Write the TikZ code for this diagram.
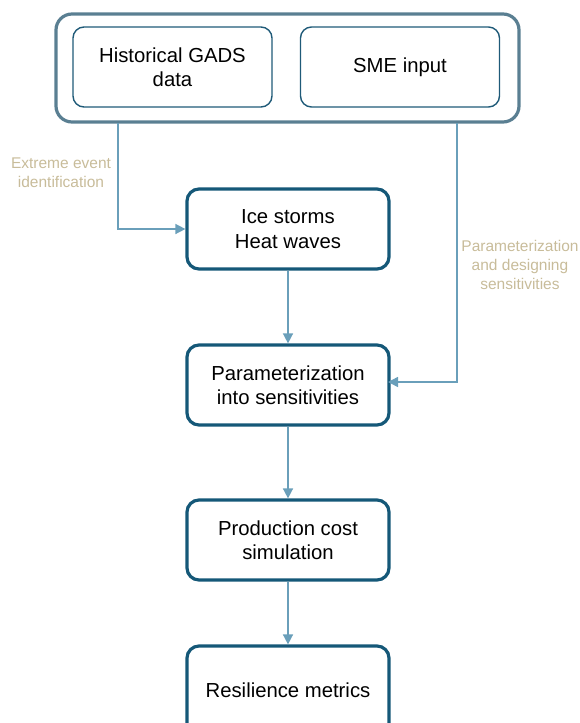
\documentclass[tikz,border=0pt]{standalone}
\usepackage{fontspec}
\setmainfont{Liberation Sans}
\usetikzlibrary{arrows.meta}
\definecolor{outerc}{HTML}{5A7F92}
\definecolor{innerc}{HTML}{1F5A78}
\definecolor{procc}{HTML}{155878}
\definecolor{arrc}{HTML}{6A9FBA}
\definecolor{labc}{HTML}{C8BC9A}
\tikzset{
  outerbox/.style={draw=outerc, line width=3.2pt, rounded corners=16pt},
  innerbox/.style={draw=innerc, line width=1.4pt, rounded corners=11pt, minimum width=199pt, minimum height=80pt, align=center, font=\fontsize{20.3}{24.5}\selectfont, inner sep=0pt},
  procbox/.style={draw=procc, line width=3.2pt, rounded corners=12pt, minimum width=202pt, minimum height=80pt, align=center, font=\fontsize{20.3}{24.5}\selectfont, inner sep=0pt},
  conn/.style={draw=arrc, line width=1.5pt, -{Triangle[length=10pt,width=10pt]}},
  lab/.style={text=labc, align=center, font=\fontsize{15.5}{19}\selectfont}
}
\begin{document}
\begin{tikzpicture}[x=1pt,y=-1pt]
\useasboundingbox (0,0) rectangle (579,723);
\begin{scope}
\clip (0,0) rectangle (579,723);
\draw[outerbox] (56,14) rectangle (519,122);
\node[innerbox] (gads) at (172.5,67) {Historical GADS\\data};
\node[innerbox] (sme) at (400,67) {SME input};
\node[procbox] (ice) at (288,229) {Ice storms\\Heat waves};
\node[procbox] (par) at (288,385) {Parameterization\\into sensitivities};
\node[procbox] (pcs) at (288,540) {Production cost\\simulation};
\node[procbox, minimum height=90pt] (res) at (288,691) {};
\node[font=\fontsize{20.3}{24.5}\selectfont] (restext) at (288,690) {Resilience metrics};
\coordinate (a1) at (118,123);
\coordinate (a2) at (457,123);
\draw[conn] (a1) |- (ice.west);
\draw[conn] (a2) |- (388,382);
\draw[conn] (ice.south) -- (par.north);
\draw[conn] (par.south) -- (pcs.north);
\draw[conn] (pcs.south) -- (res.north);
\node[lab] (l1) at (61,173) {Extreme event\\identification};
\node[lab] (l2) at (520,265) {Parameterization\\and designing\\sensitivities};
\end{scope}
\end{tikzpicture}
\end{document}
